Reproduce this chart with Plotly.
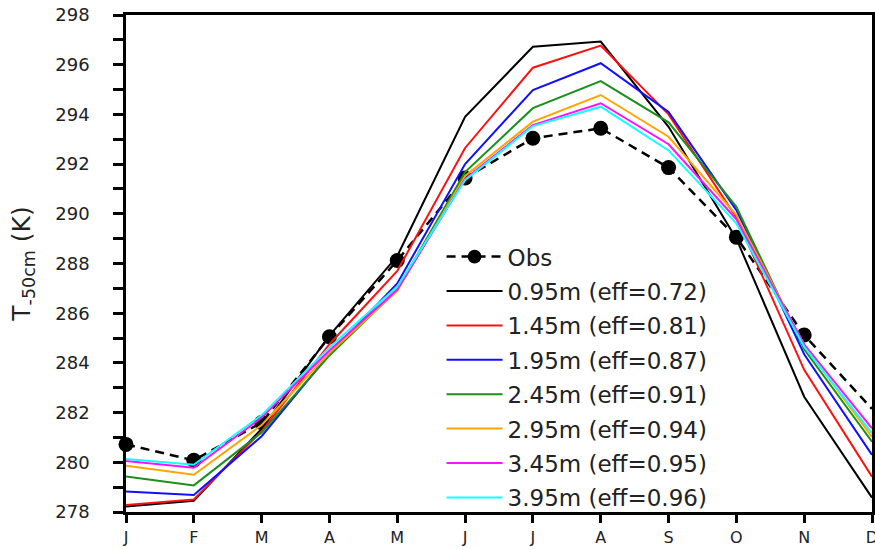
import plotly.graph_objects as go

months = ["J", "F", "M", "A", "M", "J", "J", "A", "S", "O", "N", "D"]

obs = [280.72, 280.08, 281.6, 285.05, 288.12, 291.44, 293.04, 293.44, 291.86, 289.06, 285.12, 282.15]

series_names = [
    "0.95m (eff=0.72)",
    "1.45m (eff=0.81)",
    "1.95m (eff=0.87)",
    "2.45m (eff=0.91)",
    "2.95m (eff=0.94)",
    "3.45m (eff=0.95)",
    "3.95m (eff=0.96)",
]
series_colors = ["#000000", "#ff1010", "#1010ff", "#1a8f1a", "#ffa500", "#ff10ff", "#10ffff"]

s095 = [278.22, 278.45, 281.35, 285.1, 288.3, 293.9, 296.72, 296.93, 293.5, 289.0, 282.64, 278.58]
s145 = [278.28, 278.5, 281.25, 284.75, 287.7, 292.65, 295.88, 296.77, 294.0, 289.85, 283.72, 279.42]
s195 = [278.82, 278.68, 281.05, 284.35, 287.2, 292.0, 294.98, 296.06, 294.1, 290.15, 284.35, 280.3]
s245 = [279.43, 279.07, 281.2, 284.3, 286.95, 291.68, 294.25, 295.34, 293.68, 290.28, 284.55, 280.83]
s295 = [279.86, 279.5, 281.5, 284.4, 286.9, 291.52, 293.71, 294.78, 293.1, 289.95, 284.72, 281.02]
s345 = [280.05, 279.78, 281.8, 284.5, 286.95, 291.4, 293.57, 294.45, 292.8, 289.78, 284.75, 281.37]
s395 = [280.13, 279.9, 281.9, 284.62, 287.07, 291.35, 293.53, 294.31, 292.55, 289.62, 284.65, 281.17]

series_values = [s095, s145, s195, s245, s295, s345, s395]

x_idx = list(range(len(months)))

fig = go.Figure()

# Obs: marker shown for all months but the last (clipped at the frame in the original)
obs_marker_sizes = [15] * (len(months) - 1) + [0]
fig.add_trace(go.Scatter(
    x=x_idx, y=obs, name="Obs", mode="lines+markers",
    line=dict(color="#000000", width=2.5, dash="9px,6px"),
    marker=dict(color="#000000", size=obs_marker_sizes, symbol="circle",
                opacity=1, line=dict(width=0, color="#000000")),
    cliponaxis=False, legendgroup="g0",
))

for i, (name, color, vals) in enumerate(zip(series_names, series_colors, series_values)):
    fig.add_trace(go.Scatter(
        x=x_idx, y=vals, name=name, mode="lines",
        line=dict(color=color, width=2),
        legendgroup="g%d" % (i + 1),
    ))

fig.update_layout(
    width=875, height=549,
    margin=dict(l=126, r=3, t=15, b=37),
    paper_bgcolor="white", plot_bgcolor="white",
    font=dict(family="DejaVu Sans, Arial, sans-serif", color="#222"),
    showlegend=True,
    legend=dict(
        x=0.423, y=0.557, xanchor="left", yanchor="top",
        bgcolor="rgba(0,0,0,0)", borderwidth=0,
        font=dict(size=23, color="#222"),
        traceorder="grouped", tracegroupgap=1.5,
        itemwidth=56,
    ),
    xaxis=dict(
        range=[0, 11], tickmode="array", tickvals=x_idx, ticktext=months,
        showline=True, linecolor="black", linewidth=2.5, mirror=True,
        ticks="outside", ticklen=8, tickwidth=2.5, tickcolor="black",
        showgrid=False, zeroline=False,
        tickfont=dict(size=16, color="#222"),
        ticklabelstandoff=1,
        ticklabeloverflow="allow",
        automargin=False,
    ),
    yaxis=dict(
        range=[278, 298], tickmode="linear", tick0=278, dtick=2,
        showline=True, linecolor="black", linewidth=2.5, mirror=True,
        ticks="outside", ticklen=10, tickwidth=2.5, tickcolor="black",
        minor=dict(dtick=1, ticks="outside", ticklen=10, tickwidth=2.5,
                   tickcolor="black", showgrid=False),
        showgrid=False, zeroline=False,
        tickfont=dict(size=18, color="#222"),
        ticklabelstandoff=20,
        automargin=False,
        title=dict(text="T<sub>-50cm</sub> (K)", font=dict(size=25, color="#222"), standoff=18),
    ),
)

fig.write_html("out.html")
